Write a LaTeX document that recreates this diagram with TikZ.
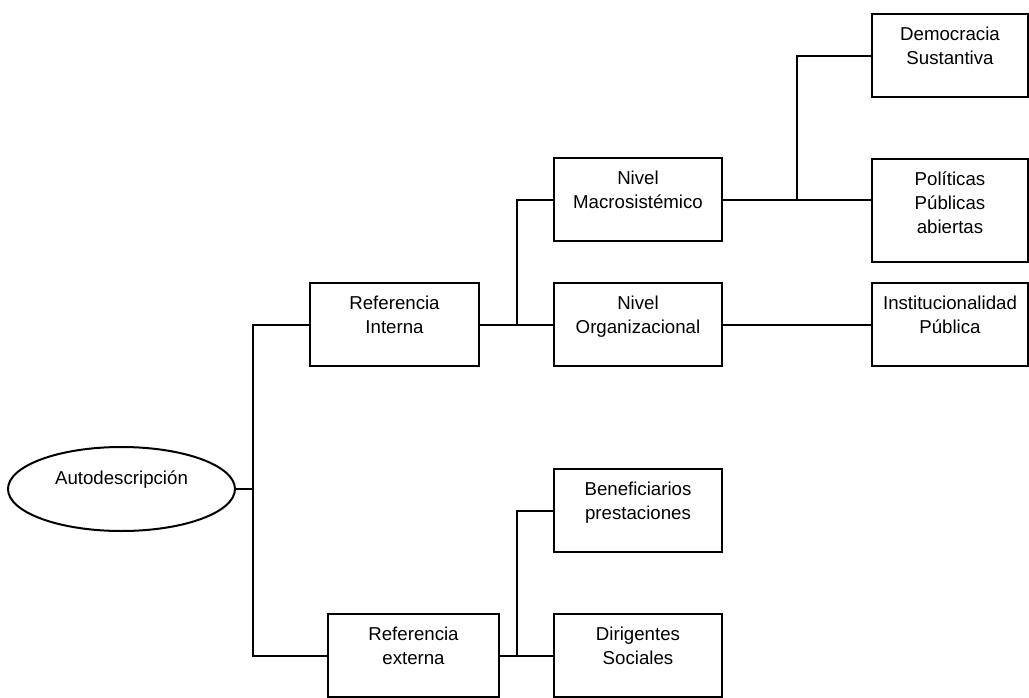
\documentclass[tikz,border=0pt]{standalone}
\usepackage{fontspec}
\setmainfont{Liberation Sans}
\usetikzlibrary{shapes.geometric}

\tikzset{every picture/.style={line width=1.5pt}}

\begin{document}
\begin{tikzpicture}[x=0.75pt,y=0.75pt,yscale=-1,xscale=1,
  box/.style={draw, rectangle, anchor=north, inner sep=0pt, align=center,
    text height=38pt, text depth=24.25pt, font=\fontsize{14}{18}\selectfont},
  oval/.style={draw, ellipse, inner sep=0pt, minimum width=170.25pt, minimum height=63pt,
    text height=10pt, text depth=17.5pt, font=\fontsize{14}{18}\selectfont}]

\useasboundingbox (0,0) rectangle (1029,697);

%Ellipse
\node [oval] (auto) at (121.5,489) {Autodescripción};

%Boxes
\node [box, minimum width=126.75pt] (refint) at (394.5,282) {Referencia\\Interna};
\node [box, minimum width=128.25pt] (refext) at (413.5,613) {Referencia\\externa};
\node [box, minimum width=126pt] (macro) at (638,157) {Nivel\\Macrosistémico};
\node [box, minimum width=126pt] (org) at (638,282) {Nivel\\Organizacional};
\node [box, minimum width=126pt] (benef) at (638,468) {Beneficiarios\\prestaciones};
\node [box, minimum width=126pt] (dirig) at (638,613) {Dirigentes\\Sociales};
\node [box, minimum width=117pt] (democ) at (950,13) {Democracia\\Sustantiva};
\node [box, minimum width=117pt, text height=56pt, text depth=21.25pt] (polit) at (950,158) {Políticas\\Públicas\\abiertas};
\node [box, minimum width=117pt] (inst) at (950,282) {Institucionalidad\\Pública};

%Junction columns
\coordinate (j1) at (253,0);
\coordinate (j2) at (517,0);
\coordinate (j3) at (797,0);

%Straight Lines
\draw (auto.east) -- (auto.east -| j1);
\draw (refint.west) -| (auto.east -| j1) |- (refext.west);
\draw (refint.east) -- (org.west);
\draw (macro.west) -| (org.west -| j2);
\draw (macro.east) -- (macro.east -| polit.west);
\draw (democ.west) -| (macro.east -| j3);
\draw (org.east) -- (inst.west);
\draw (refext.east) -- (dirig.west);
\draw (benef.west) -| (dirig.west -| j2);

\end{tikzpicture}
\end{document}
